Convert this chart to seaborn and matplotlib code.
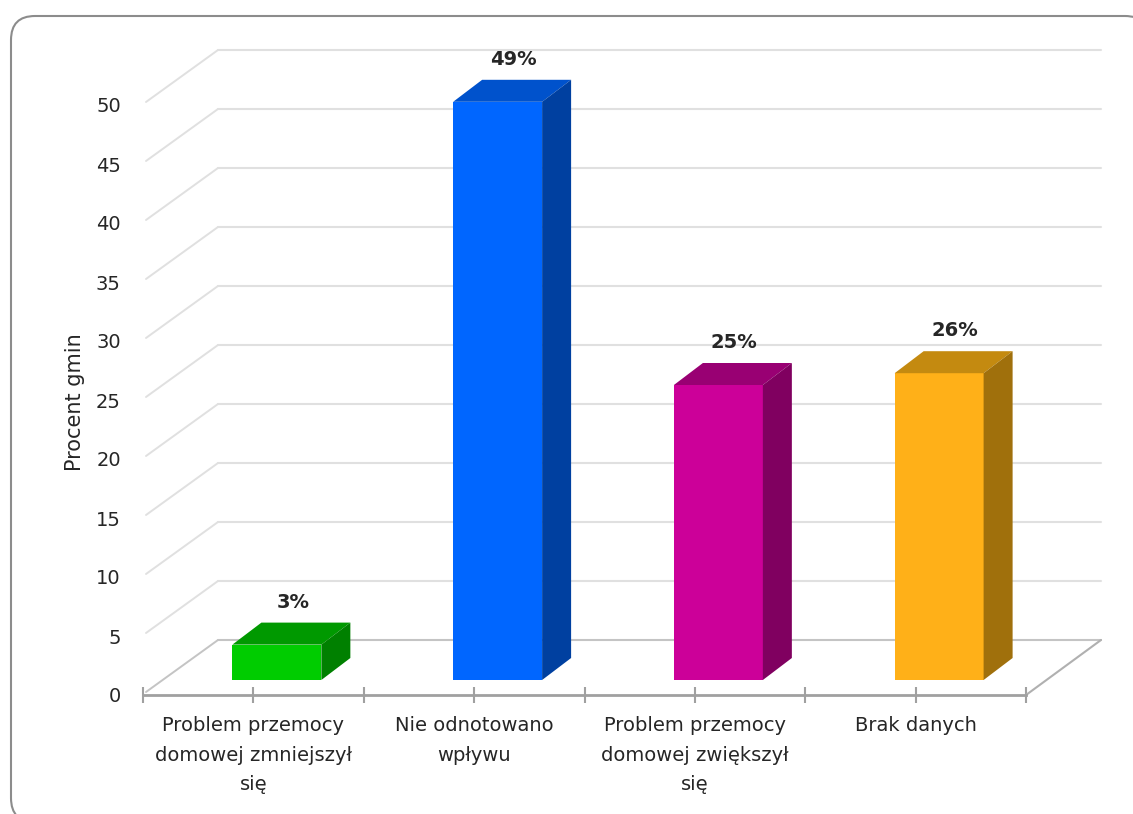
import matplotlib
matplotlib.use('Agg')
import matplotlib.pyplot as plt
import seaborn as sns
from matplotlib.patches import FancyBboxPatch, Polygon
from matplotlib.transforms import Affine2D, IdentityTransform

categories = ['Problem przemocy\ndomowej zmniejszył\nsię', 'Nie odnotowano\nwpływu',
              'Problem przemocy\ndomowej zwiększył\nsię', 'Brak danych']
values = [3, 49, 25, 26]
y_ticks = [0, 5, 10, 15, 20, 25, 30, 35, 40, 45, 50]
front_colors = ['#00CC00', '#0066FF', '#CC0099', '#FFB018']
top_colors = ['#009900', '#0052CC', '#990073', '#C48A10']
side_colors = ['#008000', '#0040A0', '#800060', '#A0700C']

W, H = 1133, 814
sns.set_theme(style='white')
plt.rcParams['font.family'] = ['DejaVu Sans']

fig = plt.figure(figsize=(W / 100, H / 100), dpi=100, facecolor='white')


def box(left, top, right, bottom):
    # pixel box measured from top left of the picture
    return [left / W, 1 - bottom / H, (right - left) / W, (bottom - top) / H]


# rounded outer frame, runs off the right and bottom edge
fig.add_artist(FancyBboxPatch((11, -8), 1138, 806, boxstyle='round,pad=0,rounding_size=24',
                              transform=IdentityTransform(), fc='white', ec='#8c8c8c', lw=1.5, zorder=-4))

ax = fig.add_axes(box(143, 105, 1026, 695))
ax.set_xlim(-0.5, 3.5)
ax.set_ylim(0, 50)
ax.patch.set_alpha(0)
sns.despine(ax=ax, left=True)
ax.spines['bottom'].set_color('#a0a0a0')
ax.spines['bottom'].set_linewidth(2)

ax.set_yticks(y_ticks)
ax.tick_params(axis='y', length=0, pad=16, labelsize=14, labelcolor='#262626')
ax.set_xticks(range(len(categories)))
ax.set_xticklabels(categories, fontsize=14, color='#262626', linespacing=1.72)
ax.set_xticks([-0.5, 0.5, 1.5, 2.5, 3.5], minor=True)
ax.tick_params(axis='x', which='both', direction='inout', length=12, width=1.5,
               color='#a0a0a0', pad=9, bottom=True)
ax.set_ylabel('Procent gmin', fontsize=15, color='#262626')
ax.yaxis.set_label_coords(-0.066, 0.497)

# back wall and side wall gridlines, pushed back by the floor depth
back = ax.transData + Affine2D().translate(75, 55)
for v in y_ticks:
    c = '#c4c4c4' if v == 0 else '#e0e0e0'
    ax.plot([-0.5, 3.5], [v, v], color=c, lw=1.5, transform=back, clip_on=False, zorder=1)
    x0, y0 = ax.transData.transform((-0.5, v))
    ax.plot([x0 + 3, x0 + 75], [y0 + 3, y0 + 55], color=c, lw=1.4,
            transform=IdentityTransform(), clip_on=False, zorder=1)
x1, y1 = ax.transData.transform((3.5, 0))
ax.plot([x1, x1 + 75], [y1, y1 + 55], color='#b0b0b0', lw=1.5,
        transform=IdentityTransform(), clip_on=False, zorder=1)

# bars stand a bit inside the floor
bar_ax = fig.add_axes(box(166.5, 90, 1049.5, 680))
bar_ax.patch.set_alpha(0)
sns.barplot(x=categories, y=values, hue=categories, palette=front_colors, legend=False,
            width=0.403, saturation=1, ax=bar_ax)
bar_ax.set_xlim(-0.5, 3.5)
bar_ax.set_ylim(0, 50)
bar_ax.axis('off')

dx, dy = 29, 22
for p, val, top_c, side_c in zip(bar_ax.patches, values, top_colors, side_colors):
    p.set_linewidth(0)
    x = p.get_x()
    w = p.get_width()
    (xl, yb), (xr, yt) = bar_ax.transData.transform([(x, 0), (x + w, p.get_height())])
    bar_ax.add_patch(Polygon([(xl, yt), (xr, yt), (xr + dx, yt + dy), (xl + dx, yt + dy)],
                             transform=IdentityTransform(), fc=top_c, ec='none', clip_on=False))
    bar_ax.add_patch(Polygon([(xr, yb), (xr + dx, yb + dy), (xr + dx, yt + dy), (xr, yt)],
                             transform=IdentityTransform(), fc=side_c, ec='none', clip_on=False))
    bar_ax.annotate(f'{val}%', (x + w / 2, val), xytext=(11.5, 30.5), textcoords='offset points',
                    ha='center', va='center', fontsize=14, fontweight='bold',
                    color='#262626', annotation_clip=False)

fig.savefig('out.png', dpi=100)
